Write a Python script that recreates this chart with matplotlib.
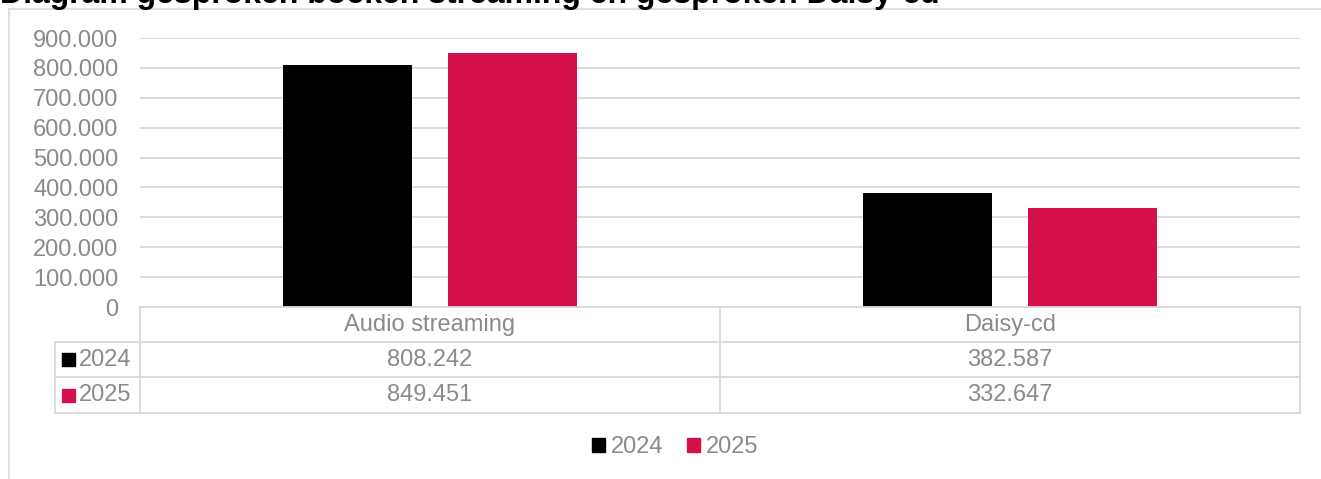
import matplotlib.pyplot as plt
from matplotlib.patches import Rectangle, Patch
from matplotlib.lines import Line2D
from matplotlib.ticker import FuncFormatter
import numpy as np

plt.rcParams['font.family'] = ['Liberation Sans', 'DejaVu Sans']

# data
title = "Diagram gesproken boeken streaming en gesproken Daisy-cd"
categories = ['Audio streaming', 'Daisy-cd']
years = ['2024', '2025']
values_2024 = [808242, 382587]
values_2025 = [849451, 332647]
yticks = np.arange(0, 900001, 100000)

colors = ['#000000', '#D4114A']
grey_txt = '#8a8a8a'
grey_line = '#d9d9d9'
fs = 17

W, H = 1321, 479
fig = plt.figure(figsize=(W / 100, H / 100), dpi=100)


def fx(x):
    return x / W


def fy(y):
    return 1 - y / H


def dots(v):
    return f"{int(v):,}".replace(',', '.')


# outer chart frame
fig.add_artist(Line2D([fx(8.5), fx(8.5)], [fy(9), fy(H + 5)], color=grey_line, lw=1.2))
fig.add_artist(Line2D([fx(8.5), fx(W + 5)], [fy(9), fy(9)], color=grey_line, lw=1.2))

# title, cut off at the top like the reference
fig.text(fx(0), fy(3.5), title, fontsize=23, fontweight='bold', color='black',
         ha='left', va='baseline')

# bars
left, right, top, bottom = 140, 1300, 38, 307
ax = fig.add_axes([fx(left), fy(bottom), (right - left) / W, (bottom - top) / H])
x = np.arange(len(categories))
width = 0.222
off = 0.142
ax.bar(x - off, values_2024, width, color=colors[0], zorder=3)
ax.bar(x + off, values_2025, width, color=colors[1], zorder=3)
ax.set_xlim(-0.5, len(categories) - 0.5)
ax.set_ylim(0, 900000)
ax.set_yticks(yticks)
ax.yaxis.set_major_formatter(FuncFormatter(lambda v, p: dots(v)))
ax.tick_params(axis='y', length=0, labelsize=fs, labelcolor=grey_txt, pad=15.5)
ax.set_xticks([])
ax.grid(axis='y', color=grey_line, lw=1.3, zorder=0)
for s in ax.spines.values():
    s.set_visible(False)
ax.set_facecolor('none')

# data table
rows_y = [307, 342, 377, 413]
col_x = [left, 720, right]
lab_x = 55
line_kw = dict(color=grey_line, lw=1.3)
fig.add_artist(Line2D([fx(left), fx(right)], [fy(rows_y[0])] * 2, **line_kw))
for yy in rows_y[1:]:
    fig.add_artist(Line2D([fx(lab_x), fx(right)], [fy(yy)] * 2, **line_kw))
for xx in col_x:
    fig.add_artist(Line2D([fx(xx)] * 2, [fy(rows_y[0]), fy(rows_y[-1])], **line_kw))
fig.add_artist(Line2D([fx(lab_x)] * 2, [fy(rows_y[1]), fy(rows_y[-1])], **line_kw))

col_c = [(col_x[i] + col_x[i + 1]) / 2 for i in range(len(categories))]
for c, name in zip(col_c, categories):
    fig.text(fx(c), fy((rows_y[0] + rows_y[1]) / 2), name, fontsize=fs,
             color=grey_txt, ha='center', va='center')

series = [values_2024, values_2025]
for r, (yr, vals, col) in enumerate(zip(years, series, colors)):
    yc = (rows_y[r + 1] + rows_y[r + 2]) / 2
    fig.add_artist(Rectangle((fx(62), fy(yc + 6.5)), 13 / W, 13 / H, color=col,
                             transform=fig.transFigure))
    fig.text(fx(79), fy(yc), yr, fontsize=fs, color=grey_txt, ha='left', va='center')
    for c, v in zip(col_c, vals):
        fig.text(fx(c), fy(yc), dots(v), fontsize=fs, color=grey_txt,
                 ha='center', va='center')

# legend
handles = [Patch(color=c, label=y) for c, y in zip(colors, years)]
fig.legend(handles=handles, loc='center', bbox_to_anchor=(fx(675), fy(447)),
           ncol=2, frameon=False, fontsize=fs, labelcolor=grey_txt,
           handlelength=0.55, handleheight=0.55, handletextpad=0.25,
           columnspacing=1.0)

fig.savefig('out.png', dpi=100)
